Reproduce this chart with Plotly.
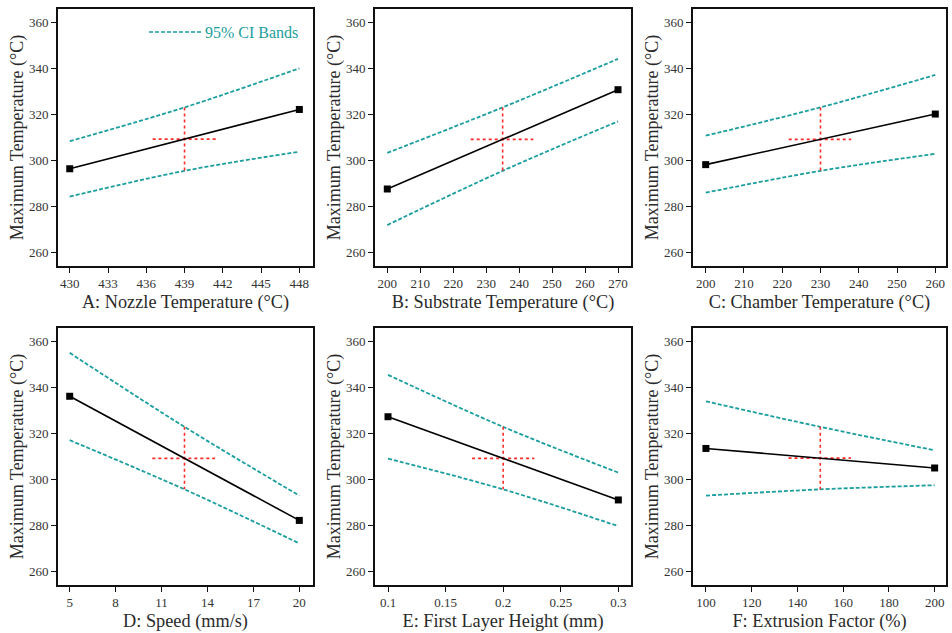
import plotly.graph_objects as go

# ---- data ----
panel_titles = ["A: Nozzle Temperature (°C)", "B: Substrate Temperature (°C)",
                "C: Chamber Temperature (°C)", "D: Speed (mm/s)",
                "E: First Layer Height (mm)", "F: Extrusion Factor (%)"]
x_low = [430, 200, 200, 5, 0.1, 100]
x_mid = [439, 235, 230, 12.5, 0.2, 150]
x_high = [448, 270, 260, 20, 0.3, 200]
pred_low = [296.5, 287.7, 298.3, 336.3, 327.4, 313.6]
pred_high = [322.3, 330.9, 320.3, 282.3, 291.2, 305.1]
pred_mid = [309.4, 309.3, 309.3, 309.3, 309.3, 309.4]
upper_low = [308.5, 303.4, 310.9, 355.2, 345.6, 334.1]
upper_mid = [323.2, 323.2, 323.2, 323.0, 323.0, 323.0]
upper_high = [340.2, 344.3, 337.3, 293.1, 303.1, 312.8]
lower_low = [284.4, 272.0, 286.1, 317.2, 309.2, 293.1]
lower_mid = [295.6, 295.6, 295.6, 295.8, 295.8, 295.8]
lower_high = [303.9, 317.1, 303.0, 272.3, 279.8, 297.6]
cross_left = [436.5, 225.3, 221.7, 10.4, 0.173, 136.1]
cross_right = [441.5, 244.3, 238.0, 14.5, 0.227, 163.4]
x_ranges = [[429.08, 449.07], [196.27, 273.94], [196.68, 262.8],
            [4.236, 20.895], [0.0887, 0.311], [94.34, 204.97]]
x_ticks = [[430, 433, 436, 439, 442, 445, 448],
           [200, 210, 220, 230, 240, 250, 260, 270],
           [200, 210, 220, 230, 240, 250, 260],
           [5, 8, 11, 14, 17, 20],
           [0.1, 0.15, 0.2, 0.25, 0.3],
           [100, 120, 140, 160, 180, 200]]
x_ticktext = [[str(v) for v in t] for t in x_ticks]
y_ticks = [260, 280, 300, 320, 340, 360]
y_range = [254.2, 366.0]
legend_label = "95% CI Bands"

TEAL = "#1a9e9e"
RED = "#ff2a2a"
FONT = "Liberation Serif"
TXT = "#2a2a2a"

x_domains = [[58/952, 313/952], [375/952, 631/952], [693/952, 946/952]]
y_domains = [[1-266/633, 1-9/633], [1-585/633, 1-328/633]]

fig = go.Figure()
for i in range(6):
    n = i + 1
    xa = "x" if n == 1 else f"x{n}"
    ya = "y" if n == 1 else f"y{n}"
    # CI bands
    fig.add_trace(go.Scatter(x=[x_low[i], x_mid[i], x_high[i]],
                             y=[upper_low[i], upper_mid[i], upper_high[i]],
                             mode="lines", line=dict(color=TEAL, width=1.8, dash="4px,2px", shape="spline"),
                             xaxis=xa, yaxis=ya, showlegend=False, hoverinfo="skip"))
    fig.add_trace(go.Scatter(x=[x_low[i], x_mid[i], x_high[i]],
                             y=[lower_low[i], lower_mid[i], lower_high[i]],
                             mode="lines", line=dict(color=TEAL, width=1.8, dash="4px,2px", shape="spline"),
                             xaxis=xa, yaxis=ya, showlegend=False, hoverinfo="skip"))
    # red cross
    fig.add_trace(go.Scatter(x=[x_mid[i], x_mid[i]], y=[upper_mid[i], lower_mid[i]],
                             mode="lines", line=dict(color=RED, width=1.6, dash="dot"),
                             xaxis=xa, yaxis=ya, showlegend=False))
    fig.add_trace(go.Scatter(x=[cross_left[i], cross_right[i]], y=[pred_mid[i], pred_mid[i]],
                             mode="lines", line=dict(color=RED, width=1.6, dash="dot"),
                             xaxis=xa, yaxis=ya, showlegend=False))
    # prediction line
    fig.add_trace(go.Scatter(x=[x_low[i], x_high[i]], y=[pred_low[i], pred_high[i]],
                             mode="lines+markers", line=dict(color="black", width=1.6),
                             marker=dict(symbol="square", size=7, color="black"),
                             xaxis=xa, yaxis=ya, showlegend=False))

    row, col = divmod(i, 3)
    axis_common = dict(showline=True, linecolor="#111111", linewidth=1.7, mirror=True,
                       ticks="outside", ticklen=5, tickwidth=1, tickcolor="#111111",
                       showgrid=False, zeroline=False,
                       tickfont=dict(family=FONT, size=13, color="#333333"))
    fig.layout[f"xaxis{'' if n == 1 else n}"] = dict(
        axis_common, domain=x_domains[col], range=x_ranges[i], anchor=ya,
        tickvals=x_ticks[i], ticktext=x_ticktext[i],
        title=dict(text=panel_titles[i], font=dict(family=FONT, size=18.3, color=TXT), standoff=5))
    fig.layout[f"yaxis{'' if n == 1 else n}"] = dict(
        axis_common, domain=y_domains[row], range=y_range, anchor=xa,
        tickvals=y_ticks,
        title=dict(text="Maximum Temperature (°C)", font=dict(family=FONT, size=18, color=TXT), standoff=1))

# legend-like label in panel A
fig.add_shape(type="line", xref="paper", yref="paper",
              x0=149/952, x1=202/952, y0=1-32/633, y1=1-32/633,
              line=dict(color=TEAL, width=1.3, dash="4px,2px"))
fig.add_annotation(text=legend_label, xref="paper", yref="paper",
                   x=203/952, y=1-32/633, xanchor="left", yanchor="middle",
                   showarrow=False, font=dict(family=FONT, size=16, color=TEAL))

fig.update_layout(width=952, height=633, margin=dict(l=0, r=0, t=0, b=0),
                  paper_bgcolor="white", plot_bgcolor="white")
fig.write_html("out.html", config={"displayModeBar": False},
               post_script="document.body.style.margin='0';document.body.style.overflow='hidden';")
